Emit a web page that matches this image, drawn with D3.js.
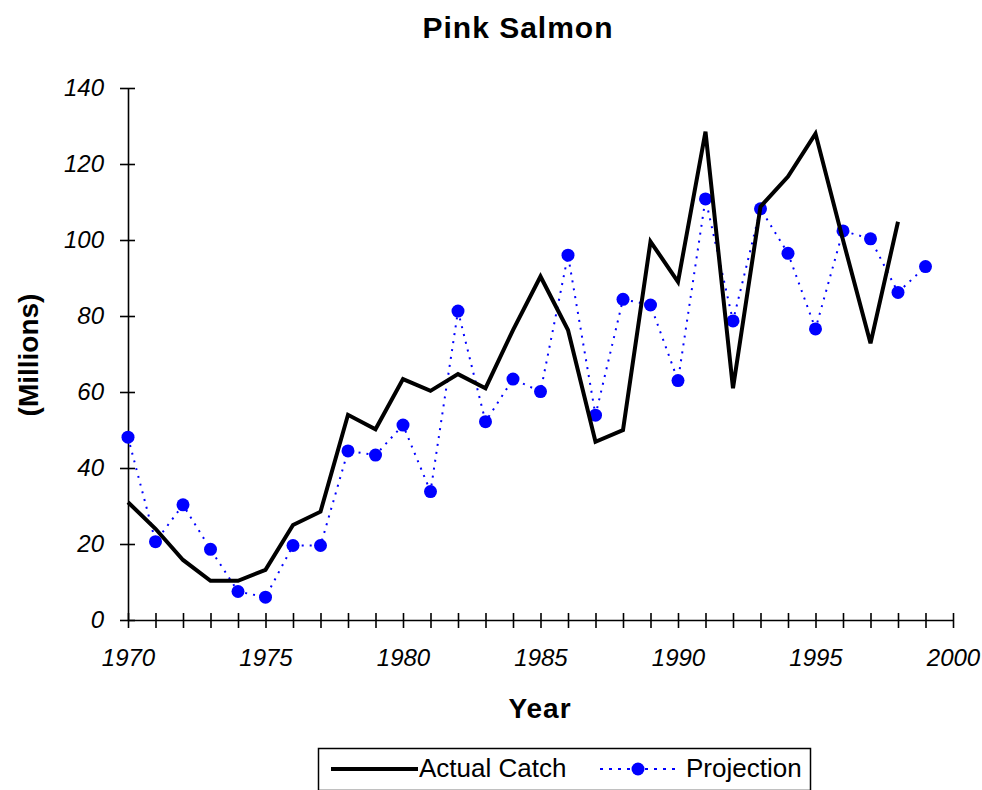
<!DOCTYPE html>
<html>
<head>
<meta charset="utf-8">
<script src="https://cdn.jsdelivr.net/npm/d3@7"></script>
<style>
  body { margin: 0; background: #fff; }
  svg { font-family: "Liberation Sans", Arial, sans-serif; }
  .tick text { font-style: italic; font-size: 24px; fill: #000; }
</style>
</head>
<body>
<div class="chart"></div>
<script>
//
// DATA
//
const years = d3.range(1970, 2000)
const actualCatch = [31, 24, 15.8, 10.3, 10.3, 13.2, 25, 28.5, 54, 50.2,
    63.4, 60.3, 64.7, 61, 76.3, 90.4, 76.3, 46.9, 50, 99.6,
    89, 128.5, 61, 108.8, 116.7, 128, 100, 72.8, 104.8, null]
const projection = [48.1, 20.6, 30.3, 18.6, 7.5, 6, 19.6, 19.6, 44.5, 43.4,
    51.3, 33.8, 81.3, 52.2, 63.4, 60.1, 96, 53.9, 84.4, 82.9,
    63, 110.8, 78.7, 108.2, 96.5, 76.6, 102.4, 100.3, 86.2, 93]
const xTicks = [1970, 1975, 1980, 1985, 1990, 1995, 2000]
const yTicks = [0, 20, 40, 60, 80, 100, 120, 140]

//
// GLOBALS
//
const width = 982
const height = 790
const plot = { left: 128, right: 953, top: 88, bottom: 620 }

const svg = d3.select('.chart')
    .append('svg')
    .attr('width', width)
    .attr('height', height)

const x = d3.scaleLinear().domain([1970, 2000]).range([plot.left, plot.right])
const y = d3.scaleLinear().domain([0, 140]).range([plot.bottom, plot.top])

// axes - ticks cross the axis line, as in the original
const xAxis = svg.append('g')
    .attr('transform', `translate(0,${plot.bottom})`)
    .call(d3.axisBottom(x).tickValues(years.concat([2000])).tickSizeInner(8).tickSizeOuter(0).tickFormat(d => xTicks.includes(d) ? d : ''))
xAxis.selectAll('.tick line').attr('y1', -7).attr('stroke-width', 1.6)
xAxis.selectAll('.tick text').attr('y', 29).attr('dy', '0.71em')
xAxis.select('.domain').attr('stroke-width', 1.6)

const yAxis = svg.append('g')
    .attr('transform', `translate(${plot.left},0)`)
    .call(d3.axisLeft(y).tickValues(yTicks).tickSizeInner(8).tickSizeOuter(0))
yAxis.selectAll('.tick line').attr('x1', 7).attr('x2', -8).attr('stroke-width', 1.6)
yAxis.selectAll('.tick text').attr('x', -24)
yAxis.select('.domain').attr('stroke-width', 1.6)

// titles
svg.append('text')
    .attr('x', 518).attr('y', 38)
    .attr('text-anchor', 'middle')
    .style('font-size', '30px').style('font-weight', 'bold')
    .style('letter-spacing', '1px')
    .text('Pink Salmon')

svg.append('text')
    .attr('x', 540).attr('y', 718)
    .attr('text-anchor', 'middle')
    .style('font-size', '28px').style('font-weight', 'bold')
    .style('letter-spacing', '1px')
    .text('Year')

svg.append('text')
    .attr('transform', 'translate(38,355) rotate(-90)')
    .attr('text-anchor', 'middle')
    .style('font-size', '28px').style('font-weight', 'bold')
    .text('(Millions)')

// projection series: dotted blue line with round markers
const projData = years.map((yr, i) => ({ yr, v: projection[i] }))
svg.append('path')
    .datum(projData)
    .attr('fill', 'none')
    .attr('stroke', '#0000ff')
    .attr('stroke-width', 2)
    .attr('stroke-dasharray', '2,6')
    .attr('d', d3.line().x(d => x(d.yr)).y(d => y(d.v)))

svg.append('g')
    .selectAll('circle')
    .data(projData)
    .join('circle')
    .attr('cx', d => x(d.yr))
    .attr('cy', d => y(d.v))
    .attr('r', 6.5)
    .attr('fill', '#0000ff')

// actual catch: thick black line
const catchData = years.map((yr, i) => ({ yr, v: actualCatch[i] })).filter(d => d.v !== null)
svg.append('path')
    .datum(catchData)
    .attr('fill', 'none')
    .attr('stroke', '#000')
    .attr('stroke-width', 4)
    .attr('stroke-linejoin', 'miter')
    .attr('d', d3.line().x(d => x(d.yr)).y(d => y(d.v)))

// legend
const legend = svg.append('g')
svg.append('rect')
    .attr('x', 318.5).attr('y', 748.5)
    .attr('width', 492).attr('height', 42)
    .attr('fill', 'none').attr('stroke', '#000').attr('stroke-width', 1.5)
legend.append('line')
    .attr('x1', 331).attr('x2', 418).attr('y1', 769).attr('y2', 769)
    .attr('stroke', '#000').attr('stroke-width', 4)
legend.append('text')
    .attr('x', 419).attr('y', 777)
    .style('font-size', '26px')
    .text('Actual Catch')
legend.append('line')
    .attr('x1', 600).attr('x2', 680).attr('y1', 769).attr('y2', 769)
    .attr('stroke', '#0000ff').attr('stroke-width', 2).attr('stroke-dasharray', '3,6')
legend.append('circle')
    .attr('cx', 638).attr('cy', 769).attr('r', 6.5).attr('fill', '#0000ff')
legend.append('text')
    .attr('x', 686).attr('y', 777)
    .style('font-size', '26px')
    .text('Projection')
</script>
</body>
</html>
